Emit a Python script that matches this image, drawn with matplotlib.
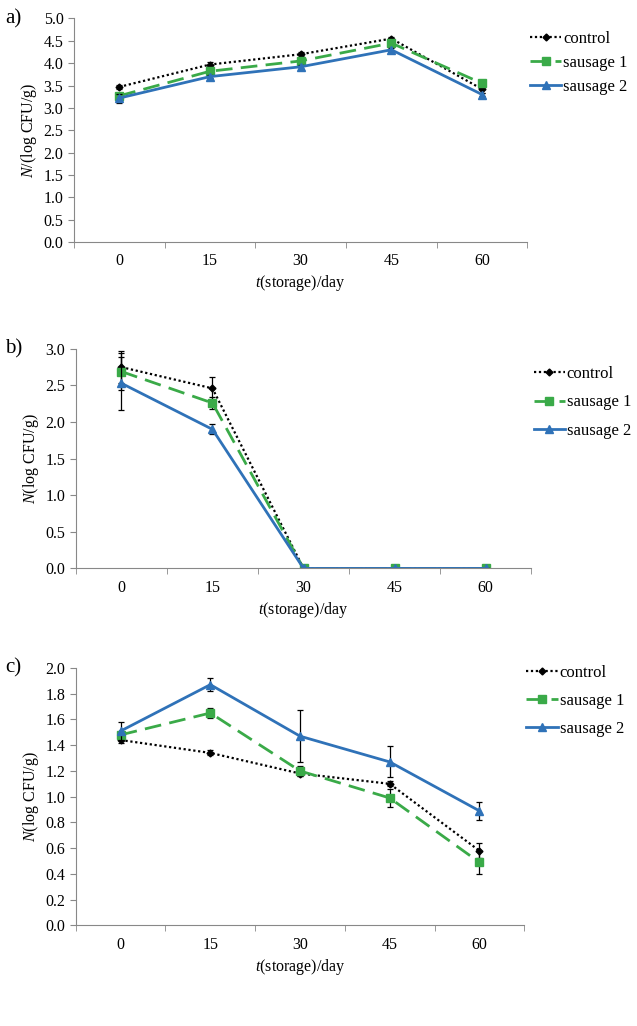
import matplotlib.pyplot as plt
import numpy as np

plt.rcParams['font.family'] = ['Liberation Serif', 'DejaVu Serif']
plt.rcParams['mathtext.fontset'] = 'custom'
plt.rcParams['mathtext.it'] = 'Liberation Serif:italic'
plt.rcParams['mathtext.rm'] = 'Liberation Serif'

days = ['0', '15', '30', '45', '60']
series_names = ['control', 'sausage 1', 'sausage 2']

# panel a
a_control = [3.47, 3.97, 4.20, 4.55, 3.42]
a_control_err = [0.05, 0.06, 0.05, 0.04, 0.08]
a_s1 = [3.27, 3.82, 4.05, 4.45, 3.55]
a_s1_err = [0.06, 0.05, 0.05, 0.04, 0.07]
a_s2 = [3.22, 3.70, 3.92, 4.30, 3.30]
a_s2_err = [0.10, 0.04, 0.04, 0.03, 0.04]

# panel b
b_control = [2.75, 2.46, 0.0, 0.0, 0.0]
b_control_err = [0.22, 0.16, 0.0, 0.0, 0.0]
b_s1 = [2.69, 2.26, 0.0, 0.0, 0.0]
b_s1_err = [0.25, 0.08, 0.0, 0.0, 0.0]
b_s2 = [2.53, 1.90, 0.0, 0.0, 0.0]
b_s2_err = [0.36, 0.07, 0.0, 0.0, 0.0]

# panel c
c_control = [1.44, 1.34, 1.18, 1.10, 0.58]
c_control_err = [0.02, 0.02, 0.02, 0.02, 0.06]
c_s1 = [1.48, 1.65, 1.20, 0.99, 0.49]
c_s1_err = [0.02, 0.04, 0.04, 0.07, 0.09]
c_s2 = [1.51, 1.87, 1.47, 1.27, 0.89]
c_s2_err = [0.07, 0.05, 0.20, 0.12, 0.07]

green = '#3aaa48'
blue = '#2f72b8'
styles = [
    dict(color='black', linestyle=(0, (1, 1.2)), marker='D', markersize=3.5, linewidth=1.6),
    dict(color=green, linestyle=(0, (6, 3)), marker='s', markersize=6, linewidth=2),
    dict(color=blue, linestyle='-', marker='^', markersize=6, linewidth=2),
]

fig = plt.figure(figsize=(6.37, 10.26), dpi=100)

panels = [
    ('a)', [0.116, 0.764, 0.712, 0.218], [a_control, a_s1, a_s2], [a_control_err, a_s1_err, a_s2_err],
     5.0, 0.5, r'$N$/(log CFU/g)', 0.946, 0.5),
    ('b)', [0.119, 0.446, 0.715, 0.214], [b_control, b_s1, b_s2], [b_control_err, b_s1_err, b_s2_err],
     3.0, 0.5, r'$N$(log CFU/g)', 0.922, 0.75),
    ('c)', [0.119, 0.098, 0.704, 0.251], [c_control, c_s1, c_s2], [c_control_err, c_s1_err, c_s2_err],
     2.0, 0.2, r'$N$(log CFU/g)', 1.012, 0.72),
]

x = np.arange(len(days))
for label, pos, vals, errs, ymax, ystep, ylab, leg_y, leg_sp in panels:
    ax = fig.add_axes(pos)
    for name, v, e, st in zip(series_names, vals, errs, styles):
        ax.errorbar(x, v, yerr=e, fmt='none', ecolor='black', elinewidth=0.9, capsize=2.5, capthick=0.9)
        ax.plot(x, v, label=name, **st)
    ax.set_xlim(-0.5, len(days) - 0.5)
    ax.set_ylim(0, ymax)
    ax.set_yticks(np.arange(0, ymax + 1e-9, ystep))
    ax.yaxis.set_major_formatter(plt.FormatStrFormatter('%.1f'))
    ax.set_xticks(x)
    ax.set_xticklabels(days)
    ax.set_xticks(np.arange(-0.5, len(days), 1.0), minor=True)
    ax.tick_params(axis='x', which='major', length=0, pad=8, labelsize=11.5)
    ax.tick_params(axis='x', which='minor', length=4, color='#888888', direction='out')
    ax.tick_params(axis='y', length=4, color='#888888', labelsize=11.5)
    for s in ['top', 'right']:
        ax.spines[s].set_visible(False)
    for s in ['left', 'bottom']:
        ax.spines[s].set_color('#888888')
        ax.spines[s].set_linewidth(0.8)
    ax.set_xlabel(r'$t$(storage)/day', fontsize=11.5, labelpad=3)
    ax.set_ylabel(ylab, fontsize=11.5, labelpad=3)
    ax.legend(loc='upper left', bbox_to_anchor=(1.005, leg_y), frameon=False, fontsize=12,
              handlelength=1.9, handletextpad=0.1, labelspacing=leg_sp, borderaxespad=0,
              borderpad=0)
    fig.text(0.008, pos[1] + pos[3], label, fontsize=15, va='center', ha='left')

fig.savefig('out.png', dpi=100)
